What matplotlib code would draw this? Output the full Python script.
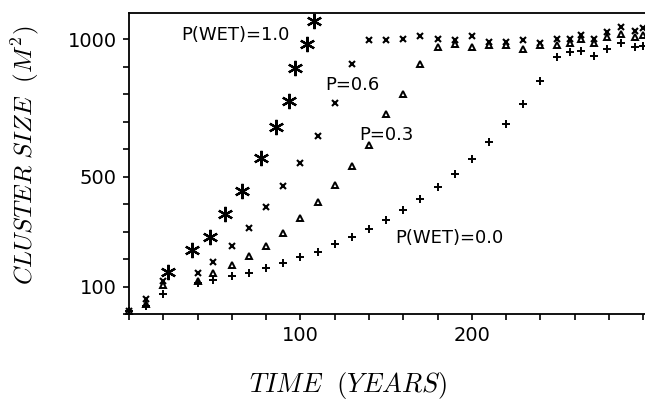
import matplotlib
matplotlib.use("Agg")
import matplotlib.pyplot as plt

plt.rcParams['mathtext.fontset'] = 'cm'
plt.rcParams['font.family'] = 'DejaVu Sans'

# P(WET)=1.0 (asterisks)
t_p10 = [23, 37, 47, 56, 66, 77, 86, 93.5, 97, 104, 108]
v_p10 = [152, 231, 279, 363, 446, 567, 679, 776, 895, 982, 1065]

t_common = [0, 10, 20, 40, 49, 60, 70, 80, 90, 100, 110, 120, 130, 140, 150, 160,
            170, 180, 190, 200, 210, 220, 230, 240, 249.5, 257.5, 263.5, 271, 279, 287, 295, 300]

# P=0.6 (crosses)
v_p06 = [10, 54, 121, 150, 190, 248, 314, 391, 466, 551, 648, 767, 909, 996, 996, 1000,
         1010, 1000, 996, 1010, 988, 988, 996, 986, 1000, 1002, 1016, 1000, 1026, 1044, 1028, 1040]

# P=0.3 (triangles)
v_p03 = [10, 38, 106, 120, 150, 178, 211, 248, 294, 349, 409, 470, 539, 616, 727, 800,
         911, 970, 982, 970, 977, 977, 964, 978, 977, 986, 1000, 986, 1008, 1018, 1008, 1015]

# P(WET)=0.0 (plus)
v_p00 = [10, 28, 72, 112, 124, 138, 150, 169, 185, 206, 227, 254, 279, 310, 342, 379,
         418, 461, 510, 565, 624, 692, 765, 846, 935, 952, 956, 937, 964, 986, 972, 975]

fig = plt.figure(figsize=(6.45, 4.19), dpi=100)
ax = fig.add_axes([0.2, 0.2506, 0.8, 0.7184])

ax.plot(t_p10, v_p10, ls='none', marker=(6, 2, 0), ms=11, mew=1.6, color='black', clip_on=False)
ax.plot(t_common, v_p06, ls='none', marker='x', ms=4.5, mew=1.5, color='black', clip_on=False)
ax.plot(t_common, v_p03, ls='none', marker='^', ms=4, mew=1.4, mfc='white', color='black', clip_on=False)
ax.plot(t_common, v_p00, ls='none', marker='+', ms=5.5, mew=1.4, color='black', clip_on=False)

ax.text(62, 1016, "P(WET)=1.0", ha='center', va='center', fontsize=13)
ax.text(130.5, 834, "P=0.6", ha='center', va='center', fontsize=13)
ax.text(150, 652, "P=0.3", ha='center', va='center', fontsize=13)
ax.text(187, 277, "P(WET)=0.0", ha='center', va='center', fontsize=13)

ax.set_xlim(0, 301)
ax.set_ylim(0, 1095)
xt = list(range(0, 301, 20))
yt = list(range(0, 1001, 100))
ax.set_xticks(xt)
ax.set_xticklabels([str(t) if t in (100, 200) else "" for t in xt])
ax.set_yticks(yt)
ax.set_yticklabels([str(v) if v in (100, 500, 1000) else "" for v in yt])
ax.tick_params(direction='out', length=4, width=1.2, labelsize=14, pad=5)
ax.spines['right'].set_visible(False)
for s in ('left', 'bottom', 'top'):
    ax.spines[s].set_linewidth(1.3)

fig.text(0.039, 0.63, r"$CLUSTER\ SIZE\ \ (M^2)$", rotation=90, ha='center', va='center', fontsize=18)
fig.text(0.54, 0.081, r"$TIME\ \ (YEARS)$", ha='center', va='center', fontsize=19)

fig.savefig("out.png", dpi=100)
